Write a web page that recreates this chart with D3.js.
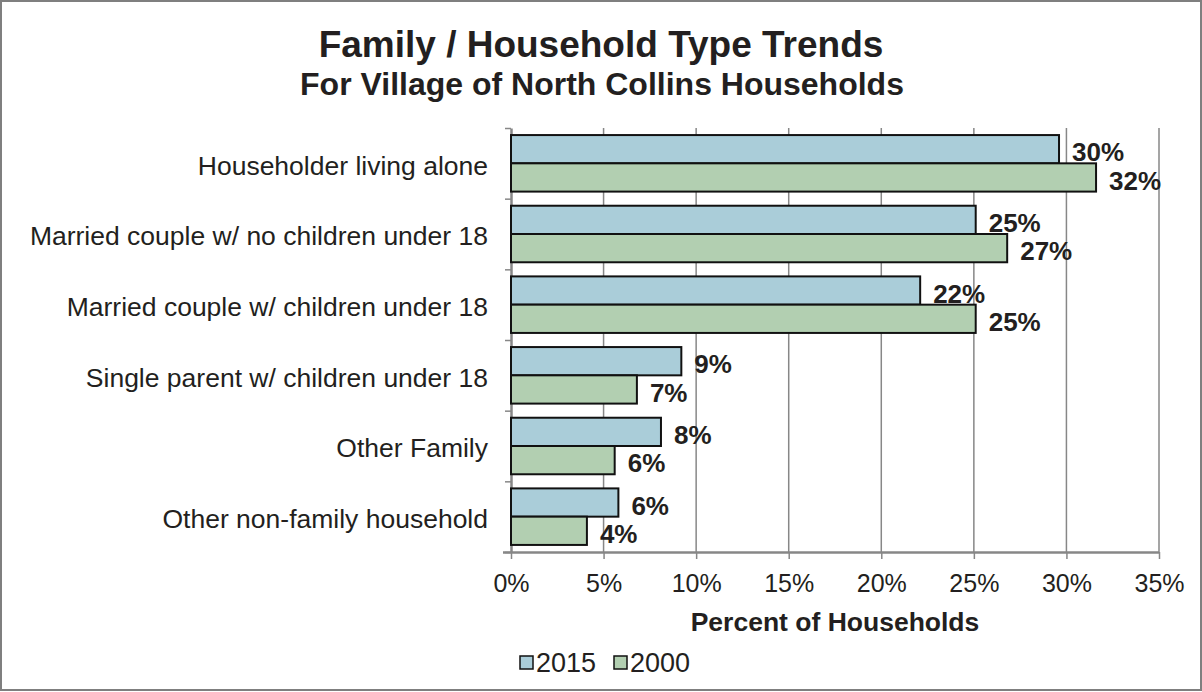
<!DOCTYPE html>
<html>
<head>
<meta charset="utf-8">
<script src="https://cdn.jsdelivr.net/npm/d3@7"></script>
<style>
  body { margin: 0; background: #fff; }
  svg text { font-family: "Liberation Sans", Arial, Helvetica, sans-serif; fill: #231f20; }
</style>
</head>
<body>
<svg id="chart" width="1202" height="692"></svg>
<script>
const categories = [
  'Householder living alone',
  'Married couple w/ no children under 18',
  'Married couple w/ children under 18',
  'Single parent w/ children under 18',
  'Other Family',
  'Other non-family household',
]
const seriesNames = ['2015', '2000']
const values2015 = [29.6, 25.1, 22.1, 9.2, 8.1, 5.8]
const values2000 = [31.6, 26.8, 25.1, 6.8, 5.6, 4.1]
const xTicks = [0, 5, 10, 15, 20, 25, 30, 35]

const width = 1202
const height = 692
const margin = { top: 128, right: 43, bottom: 140, left: 511 }
const chartWidth = width - margin.left - margin.right
const chartHeight = height - margin.top - margin.bottom

const colors = { '2015': '#aacdd9', '2000': '#b2cfb1' }
const gridColor = '#878787'

const data = categories.map((c, i) => ({
  category: c,
  values: [
    { key: '2015', value: values2015[i] },
    { key: '2000', value: values2000[i] },
  ],
}))

const svgRoot = d3.select('#chart')

// background + frame
svgRoot.append('rect')
  .attr('x', 1).attr('y', 1)
  .attr('width', width - 2).attr('height', height - 3)
  .attr('fill', '#fff')
  .attr('stroke', '#7f7f7f')
  .attr('stroke-width', 2)

// titles
svgRoot.append('text')
  .attr('x', 601).attr('y', 57)
  .attr('text-anchor', 'middle')
  .style('font-size', '37px').style('font-weight', 'bold')
  .text('Family / Household Type Trends')

svgRoot.append('text')
  .attr('x', 602).attr('y', 95)
  .attr('text-anchor', 'middle')
  .style('font-size', '32px').style('font-weight', 'bold')
  .text('For Village of North Collins Households')

const svg = svgRoot.append('g')
  .attr('transform', `translate(${margin.left},${margin.top})`)

const x = d3.scaleLinear().domain([0, 35]).range([0, chartWidth])

const y = d3.scaleBand()
  .domain(categories)
  .range([0, chartHeight])
  .paddingInner(0.2)
  .paddingOuter(0.1)

const ySub = d3.scaleBand()
  .domain(seriesNames)
  .range([0, y.bandwidth()])

// band boundaries for the left axis ticks
const yEdge = d3.scaleLinear().domain([0, categories.length]).range([0, chartHeight])

// vertical gridlines
svg.append('g')
  .selectAll('line')
  .data(xTicks.slice(1))
  .join('line')
  .attr('x1', (d) => x(d)).attr('x2', (d) => x(d))
  .attr('y1', 0).attr('y2', chartHeight)
  .attr('stroke', gridColor)
  .attr('stroke-width', 1.5)

// bottom axis
const xAxis = svg.append('g')
  .attr('transform', `translate(0,${chartHeight})`)
  .call(
    d3.axisBottom(x)
      .tickValues(xTicks)
      .tickFormat((d) => d + '%')
      .tickSize(7)
      .tickSizeOuter(0)
      .tickPadding(15)
  )
xAxis.select('.domain').attr('stroke', gridColor).attr('stroke-width', 2.5)
  .attr('d', `M-8,0.5H${chartWidth}`)
xAxis.selectAll('.tick line').attr('stroke', gridColor).attr('stroke-width', 1.5)
xAxis.selectAll('.tick text')
  .style('font-size', '25px')
  .style('font-family', '"Liberation Sans", Arial, sans-serif')
  .attr('fill', '#231f20')

// left axis (ticks at band edges)
const yAxis = svg.append('g')
  .call(
    d3.axisLeft(yEdge)
      .ticks(categories.length)
      .tickFormat('')
      .tickSize(6)
      .tickSizeOuter(0)
  )
yAxis.select('.domain').attr('stroke', gridColor).attr('stroke-width', 2.5)
yAxis.selectAll('.tick line').attr('stroke', gridColor).attr('stroke-width', 1.5)

// category labels
svg.append('g')
  .selectAll('text')
  .data(categories)
  .join('text')
  .attr('x', -23)
  .attr('y', (d) => y(d) + y.bandwidth() / 2 + 2)
  .attr('dy', '0.35em')
  .attr('text-anchor', 'end')
  .style('font-size', '26.5px')
  .text((d) => d)

// bars
const groups = svg.append('g')
  .selectAll('g')
  .data(data)
  .join('g')
  .attr('transform', (d) => `translate(0,${y(d.category)})`)

groups.selectAll('rect')
  .data((d) => d.values)
  .join('rect')
  .attr('x', 0)
  .attr('y', (d) => ySub(d.key))
  .attr('width', (d) => x(d.value))
  .attr('height', ySub.bandwidth())
  .attr('fill', (d) => colors[d.key])
  .attr('stroke', '#111')
  .attr('stroke-width', 2)

// value labels
const fmt = (v) => Math.round(v) + '%'
groups.selectAll('text')
  .data((d) => d.values)
  .join('text')
  .attr('x', (d) => x(d.value) + 13)
  .attr('y', (d) => ySub(d.key) + ySub.bandwidth() / 2 + 3)
  .attr('dy', '0.35em')
  .style('font-size', '26px')
  .style('font-weight', 'bold')
  .text((d) => fmt(d.value))

// axis title
svg.append('text')
  .attr('x', chartWidth / 2)
  .attr('y', chartHeight + 79)
  .attr('text-anchor', 'middle')
  .style('font-size', '26.5px')
  .style('font-weight', 'bold')
  .text('Percent of Households')

// legend
const legend = svgRoot.append('g').attr('transform', 'translate(520,656)')
const legendItems = legend.selectAll('g')
  .data(seriesNames)
  .join('g')
  .attr('transform', (d, i) => `translate(${i * 94},0)`)

legendItems.append('rect')
  .attr('width', 13).attr('height', 13)
  .attr('fill', (d) => colors[d])
  .attr('stroke', '#111')
  .attr('stroke-width', 1.5)

legendItems.append('text')
  .attr('x', 16)
  .attr('y', 16)
  .style('font-size', '27px')
  .text((d) => d)
</script>
</body>
</html>
